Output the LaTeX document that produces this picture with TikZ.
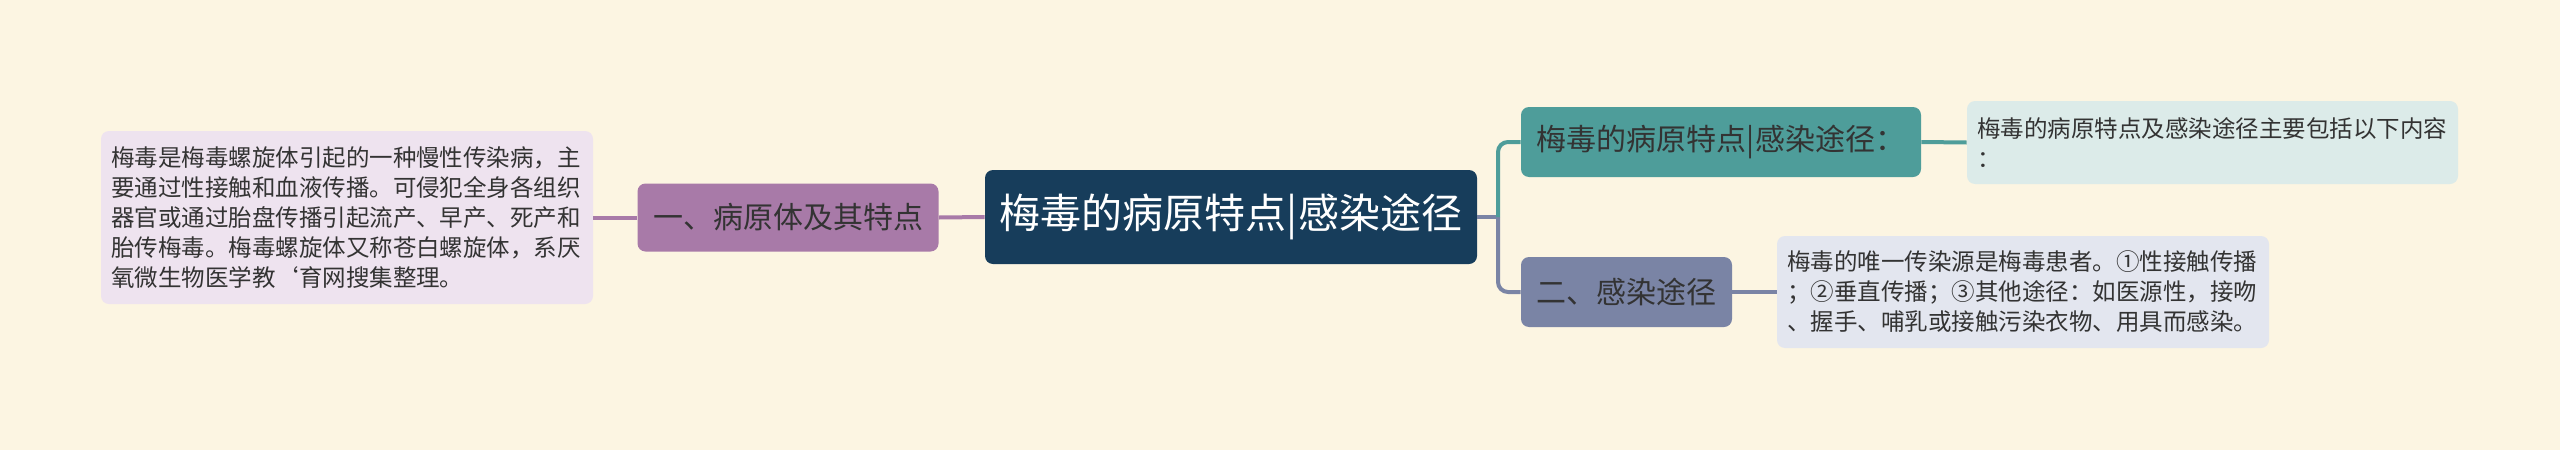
\documentclass[tikz,border=0pt]{standalone}
\usepackage{fontspec}
\setmainfont{Noto Sans CJK SC}
\definecolor{bg}{HTML}{FCF5E2}
\definecolor{cnavy}{HTML}{173D5B}
\definecolor{cpurple}{HTML}{A87AA8}
\definecolor{cteal}{HTML}{4E9D9A}
\definecolor{cslate}{HTML}{7A84A5}
\definecolor{fpurple}{HTML}{EEE3EF}
\definecolor{fteal}{HTML}{DCEBE9}
\definecolor{fslate}{HTML}{E3E6EF}
\definecolor{txt}{HTML}{333333}
\tikzset{
  box/.style={rectangle, rounded corners=4pt, inner sep=0pt, align=center, text=txt},
  textbox/.style={rectangle, rounded corners=4pt, inner xsep=5pt, inner ysep=0pt, align=left, text=txt,
     font=\fontsize{11.75pt}{15pt}\selectfont},
  subfont/.style={font=\fontsize{15pt}{18pt}\selectfont},
  link/.style={line width=2pt},
}
\begin{document}
\begin{tikzpicture}[x=0.5pt,y=-0.5pt]
\fill[bg] (0,0) rectangle (2560,450);
\useasboundingbox (0,0) rectangle (2560,450);

\node[box, fill=cnavy, text=white, minimum width=246pt, minimum height=47pt,
  font=\fontsize{20.5pt}{24pt}\selectfont] (c) at (1231,217) {梅毒的病原特点|感染途径};

\node[box, fill=cpurple, subfont, minimum width=150.5pt, minimum height=34pt] (p) at (788,217.5) {一、病原体及其特点};
\node[textbox, fill=fpurple, text width=236pt, minimum height=86.5pt] (lt) at (347,217.5)
  {梅毒是梅毒螺旋体引起的一种慢性传染病，主\\要通过性接触和血液传播。可侵犯全身各组织\\器官或通过胎盘传播引起流产、早产、死产和\\胎传梅毒。梅毒螺旋体又称苍白螺旋体，系厌\\氧微生物医学教\symbol{"60}育网搜集整理。};

\node[box, fill=cteal, subfont, minimum width=200pt, minimum height=35pt] (n1) at (1721,142) {梅毒的病原特点|感染途径：};
\node[box, fill=cslate, subfont, minimum width=105.5pt, minimum height=35pt] (n2) at (1626.5,292) {二、感染途径};

\node[textbox, fill=fteal, text width=235.5pt, minimum height=41.5pt] (t1) at (2212.5,142.5)
  {梅毒的病原特点及感染途径主要包括以下内容\\：};
\node[textbox, fill=fslate, text width=236pt, minimum height=56pt] (t2) at (2023,292)
  {梅毒的唯一传染源是梅毒患者。①性接触传播\\；②垂直传播；③其他途径：如医源性，接吻\\、握手、哺乳或接触污染衣物、用具而感染。};

\coordinate (j) at (1498,217);
\draw[link, cpurple] (c.west) -- (p.east);
\draw[link, cpurple] (p.west) -- (lt.east);
\draw[link, cslate] (c.east) -- (j);
\draw[link, cslate, rounded corners=5pt] (j) |- (n2.west);
\draw[link, cteal, rounded corners=5pt] (j) |- (n1.west);
\draw[link, cteal] (n1.east) -- (t1.west);
\draw[link, cslate] (n2.east) -- (t2.west);
\end{tikzpicture}
\end{document}
